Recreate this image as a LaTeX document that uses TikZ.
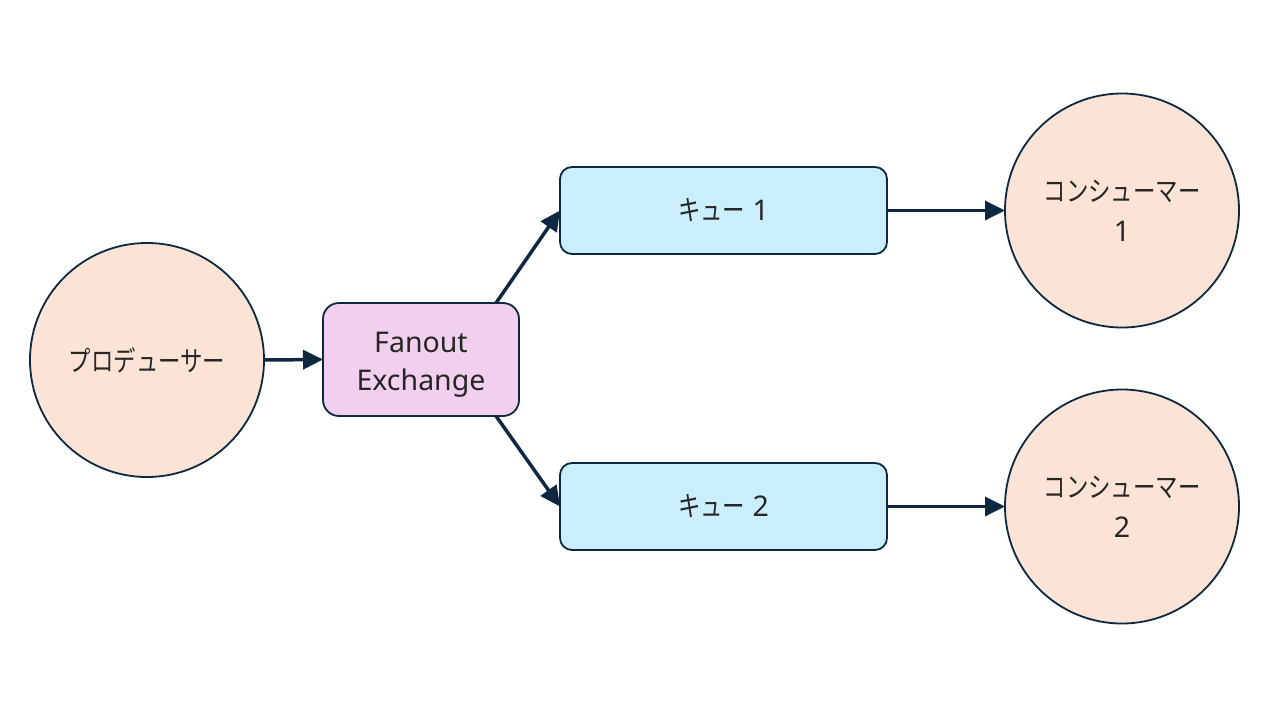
\documentclass[tikz,border=0pt]{standalone}
\usepackage{fontspec}
\setmainfont{Noto Sans}
\newfontfamily\jpfont[FakeStretch=0.8]{Noto Sans CJK JP}
\usetikzlibrary{arrows.meta}
\definecolor{navy}{HTML}{0E2841}
\definecolor{peach}{HTML}{FBE3D6}
\definecolor{pinkbox}{HTML}{F2CFEE}
\definecolor{bluebox}{HTML}{CAEEFB}
\definecolor{txt}{HTML}{262626}
\newcommand\J[1]{{\jpfont\fontsize{28}{40}\selectfont #1}}
\tikzset{
  base/.style={draw=navy, line width=1.8pt, text=txt, align=center, inner sep=0pt, outer sep=0pt,
    font=\fontsize{28.5}{38}\selectfont},
  circ/.style={base, circle, fill=peach, minimum size=234pt},
  fanbox/.style={base, rectangle, rounded corners=16pt, fill=pinkbox, minimum width=196pt, minimum height=113pt},
  qbox/.style={base, rectangle, rounded corners=12pt, fill=bluebox, minimum width=327pt, minimum height=87pt},
  conn/.style={draw=navy, line width=3.5pt, -{Triangle[length=20pt,width=19pt]}}
}
\begin{document}
\begin{tikzpicture}[x=1pt,y=-1pt]
\useasboundingbox (0,0) rectangle (1280,720);
\fill[white] (0,0) rectangle (1280,720);
\node[circ] (prod) at (147,360) {\J{プロデューサー}};
\node[fanbox] (fan) at (421,359.5) {\rule{0pt}{31pt}Fanout\\Exchange};
\node[qbox] (q1) at (723.5,210.5) {\J{キュー} 1};
\node[qbox] (q2) at (723.5,506.5) {\J{キュー} 2};
\node[circ] (c1) at (1122,210.5) {\J{コンシューマー}\\[2pt]1};
\node[circ] (c2) at (1122,506.5) {\J{コンシューマー}\\[2pt]2};
\draw[conn] (prod.east) -- (fan.west);
\draw[conn] ([xshift=-23pt]fan.north east) -- (q1.west);
\draw[conn] ([xshift=-23pt]fan.south east) -- (q2.west);
\draw[conn] (q1.east) -- (c1.west);
\draw[conn] (q2.east) -- (c2.west);
\end{tikzpicture}
\end{document}
